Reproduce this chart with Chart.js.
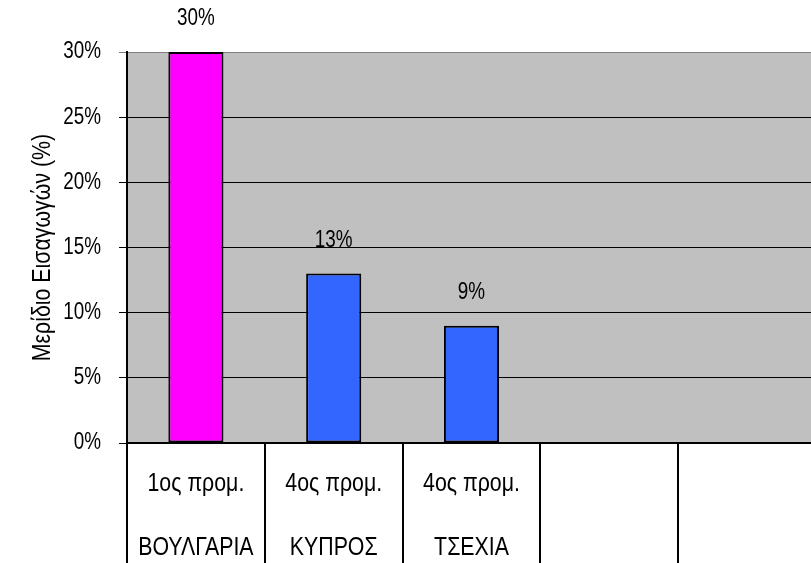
<!DOCTYPE html>
<html>
<head>
<meta charset="utf-8">
<script src="https://cdn.jsdelivr.net/npm/chart.js@4/dist/chart.umd.min.js"></script>
<style>
html, body { margin: 0; padding: 0; width: 811px; height: 563px; overflow: hidden; background: #ffffff; }
#wrap { position: absolute; left: 0; top: 0; width: 816px; height: 563px; }
</style>
</head>
<body>
<div id="wrap"><canvas id="c" width="816" height="563"></canvas></div>
<script>
const countries = ['ΒΟΥΛΓΑΡΙΑ', 'ΚΥΠΡΟΣ', 'ΤΣΕΧΙΑ', '', ''];
const ranks = ['1ος προμ.', '4ος προμ.', '4ος προμ.', '', ''];
const shares = [30, 13, 9, null, null];
const barColors = ['#FF00FF', '#3366FF', '#3366FF', '#3366FF', '#3366FF'];
const yTitle = 'Μερίδιο Εισαγωγών (%)';

const FAMILY = "'Liberation Sans', Arial, sans-serif";
const NARROW = 0.82; // horizontal condensing to imitate a narrow sans face

const labels = countries.map((c, i) => [ranks[i], c]);

const canvas = document.getElementById('c');
const ctx2d = canvas.getContext('2d');
const origFill = ctx2d.fillText.bind(ctx2d);
ctx2d.fillText = function (text, x, y, maxWidth) {
  this.save();
  this.translate(x, y);
  this.scale(NARROW, 1);
  origFill(text, 0, 0);
  this.restore();
};

const bgPlugin = {
  id: 'plotBg',
  beforeDraw(chart) {
    const a = chart.chartArea, ctx = chart.ctx;
    ctx.save();
    ctx.fillStyle = '#C0C0C0';
    ctx.fillRect(a.left, a.top, a.right - a.left, a.bottom - a.top);
    ctx.restore();
  }
};

const valuePlugin = {
  id: 'values',
  afterDatasetsDraw(chart) {
    const ctx = chart.ctx;
    const meta = chart.getDatasetMeta(0);
    ctx.save();
    ctx.font = '23px ' + FAMILY;
    ctx.fillStyle = '#000';
    ctx.textAlign = 'center';
    ctx.textBaseline = 'middle';
    meta.data.forEach((bar, i) => {
      const v = shares[i];
      if (v === null || v === undefined) return;
      ctx.fillText(v + '%', bar.x, bar.y - 33);
    });
    ctx.restore();
  }
};

new Chart(canvas, {
  type: 'bar',
  data: {
    labels: labels,
    datasets: [{
      data: shares,
      backgroundColor: barColors,
      borderColor: '#000000',
      borderWidth: 2,
      borderSkipped: false,
      barPercentage: 0.4,
      categoryPercentage: 1.0
    }]
  },
  options: {
    responsive: false,
    animation: false,
    layout: { padding: { top: 52, left: 0, right: 0, bottom: 0 } },
    plugins: { legend: { display: false }, tooltip: { enabled: false } },
    scales: {
      x: {
        offset: true,
        afterFit(scale) { scale.height = 120; },
        border: { display: true, color: '#000', width: 2 },
        grid: { offset: true, drawOnChartArea: false, drawTicks: true, tickLength: 120, color: '#000', lineWidth: 2 },
        ticks: {
          autoSkip: false, maxRotation: 0, minRotation: 0,
          padding: -111,
          color: '#000',
          font: { family: FAMILY, size: 26, lineHeight: 64 / 26 }
        }
      },
      y: {
        min: 0, max: 30,
        afterFit(scale) { scale.width = 127; },
        border: { display: true, color: '#000', width: 2 },
        grid: {
          color: (ctx) => (ctx.tick && ctx.tick.value === 30 ? '#808080' : '#000'),
          lineWidth: 1, tickLength: 8, drawTicks: true
        },
        ticks: {
          stepSize: 5, padding: 18, color: '#000',
          font: { family: FAMILY, size: 23 },
          callback: (v) => v + '%'
        },
        title: {
          display: true, text: yTitle, color: '#000',
          font: { family: FAMILY, size: 26 },
          padding: { top: 27, bottom: 0 }
        }
      }
    }
  },
  plugins: [bgPlugin, valuePlugin]
});
</script>
</body>
</html>
